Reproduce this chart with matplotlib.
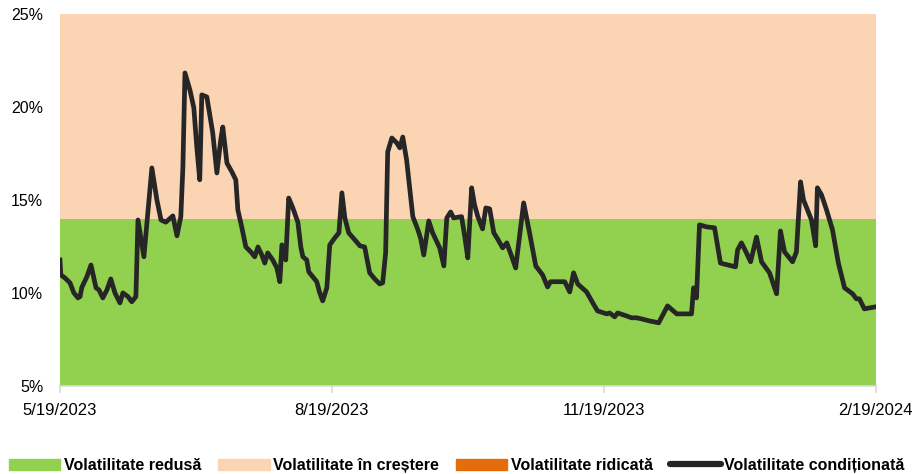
import numpy as np
import pandas as pd
import matplotlib
matplotlib.use("Agg")
import matplotlib.pyplot as plt
from matplotlib.patches import Patch
from matplotlib.lines import Line2D
from matplotlib.ticker import PercentFormatter

## Data (days after 5/19/2023, volatility in %) ##
start = pd.Timestamp("2023-05-19")
end = pd.Timestamp("2024-02-19")
days = [0, 0.3, 1.7, 3.4, 4.7, 6.1, 6.8, 7.4, 9.1, 10.5, 12.2, 13.2, 14.5, 15.9, 17.2,
        18.6, 20.3, 21.3, 23.0, 24.3, 25.7, 26.4, 28.4, 31.1, 32.8, 34.2, 35.8, 37.9,
        38.2, 39.6, 40.9, 41.6, 42.3, 44.0, 45.3, 46.3, 47.3, 48.0, 49.7, 51.7, 53.1,
        54.4, 55.1, 56.5, 58.2, 59.5, 60.2, 61.5, 62.9, 64.6, 65.9, 67.0, 68.3, 69.3,
        70.3, 72.0, 73.4, 74.4, 75.1, 76.4, 77.4, 78.8, 80.5, 81.5, 82.2, 83.5, 84.2,
        86.9, 87.9, 88.9, 90.3, 91.3, 93.0, 94.4, 95.4, 96.4, 97.7, 99.8, 101.5, 103.1,
        104.8, 106.5, 108.2, 109.2, 110.2, 110.9, 112.3, 114.0, 115.0, 116.0, 117.3,
        118.4, 119.4, 121.1, 122.1, 123.1, 124.8, 126.1, 128.5, 129.9, 130.9, 132.2,
        133.2, 135.9, 137.0, 138.0, 139.3, 140.3, 141.4, 143.0, 144.1, 145.4, 146.8,
        148.1, 149.8, 151.2, 152.9, 154.2, 156.9, 158.9, 161.0, 163.3, 165.0, 166.0,
        170.8, 172.5, 173.8, 175.2, 178.2, 180.3, 181.9, 185.0, 186.0, 187.7, 188.7,
        191.7, 193.4, 195.1, 196.8, 199.5, 202.6, 205.6, 208.7, 213.7, 214.4, 215.4,
        216.4, 218.8, 221.5, 223.5, 228.6, 229.3, 230.6, 232.3, 233.7, 235.7, 237.4,
        240.1, 242.5, 243.8, 245.2, 247.9, 249.2, 250.6, 251.6, 254.3, 255.7, 256.3,
        257.7, 259.4, 261.4, 263.4, 265.5, 268.2, 269.5, 270.5, 272.2, 276.0]
vol = [11.77, 10.97, 10.8, 10.54, 10.0, 9.73, 9.8, 10.3, 10.86, 11.5, 10.27, 10.16, 9.73,
       10.16, 10.75, 10.0, 9.46, 10.0, 9.8, 9.52, 9.8, 13.92, 11.94, 16.72, 15.0, 13.92,
       13.8, 14.1, 14.14, 13.07, 14.1, 16.77, 21.83, 20.9, 19.95, 17.85, 16.08, 20.65,
       20.54, 18.6, 16.45, 18.23, 18.92, 16.98, 16.5, 16.08, 14.46, 13.55, 12.47, 12.2,
       11.94, 12.47, 12.04, 11.6, 12.15, 11.77, 11.34, 10.6, 12.58, 11.77, 15.1, 14.57,
       13.8, 12.47, 11.94, 11.77, 11.13, 10.6, 10.0, 9.57, 10.27, 12.58, 12.96, 13.23,
       15.38, 14.03, 13.23, 12.85, 12.53, 12.47, 11.08, 10.75, 10.48, 10.54, 12.15,
       17.58, 18.33, 18.06, 17.8, 18.38, 17.15, 15.54, 14.1, 13.4, 12.9, 12.04, 13.87,
       13.23, 12.42, 11.45, 14.03, 14.35, 14.03, 14.1, 13.0, 11.88, 15.65, 14.73, 14.1,
       13.44, 14.57, 14.52, 13.23, 12.9, 12.42, 12.69, 11.94, 11.34, 14.84, 13.23, 11.45,
       10.97, 10.32, 10.6, 10.6, 10.05, 11.08, 10.48, 10.05, 9.46, 9.03, 8.87, 8.92,
       8.71, 8.92, 8.76, 8.66, 8.66, 8.6, 8.49, 8.39, 9.3, 8.87, 8.87, 10.27, 9.73,
       13.66, 13.55, 13.5, 11.6, 11.4, 12.31, 12.69, 12.15, 11.67, 13.0, 11.67, 11.08,
       9.95, 13.33, 12.2, 11.67, 12.2, 15.97, 15.0, 13.92, 12.53, 15.65, 15.27, 14.46,
       13.4, 11.6, 10.27, 9.95, 9.68, 9.68, 9.14, 9.25]

## Regime bands (%) ##
y_min, band_low, band_high = 5, 14, 25
tick_dates = ["2023-05-19", "2023-08-19", "2023-11-19", "2024-02-19"]
tick_labels = ["5/19/2023", "8/19/2023", "11/19/2023", "2/19/2024"]
labels = ["Volatilitate redusă", "Volatilitate în creștere",
          "Volatilitate ridicată", "Volatilitate condiționată"]
colors = ["#92D050", "#FBD4B4", "#E46C0A", "#262626"]

dates = start + pd.to_timedelta(days, unit="D")

plt.rcParams['font.family'] = ['Liberation Sans', 'DejaVu Sans']

fig = plt.figure(figsize=(9.14, 4.74), dpi=100)
ax = fig.add_axes([0.0656, 0.186, 0.8924, 0.7845])

span = [start, end]
ax.fill_between(span, y_min, band_low, color=colors[0], linewidth=0)
ax.fill_between(span, band_low, band_high, color=colors[1], linewidth=0)
ax.plot(dates, vol, color=colors[3], linewidth=3.4, solid_joinstyle="round")

ax.set_xlim(start, end)
ax.set_ylim(y_min, band_high)
ax.set_yticks([5, 10, 15, 20, 25])
ax.yaxis.set_major_formatter(PercentFormatter(xmax=100, decimals=0))
ax.set_xticks(pd.to_datetime(tick_dates))
ax.set_xticklabels(tick_labels)

for s in ["top", "right", "left"]:
    ax.spines[s].set_visible(False)
ax.spines["bottom"].set_color("#D9D9D9")
ax.spines["bottom"].set_linewidth(1.2)
ax.tick_params(axis="y", length=0, pad=12, labelsize=11.5, colors="black")
ax.tick_params(axis="x", length=5, width=1.2, color="#D9D9D9", pad=7,
               labelsize=12, labelcolor="black")

handles = [Patch(color=colors[0]), Patch(color=colors[1]), Patch(color=colors[2]),
           Line2D([0], [0], color=colors[3], linewidth=4.5, solid_capstyle="round")]
fig.legend(handles, labels, loc="lower center", bbox_to_anchor=(0.5, -0.028), ncol=4,
           frameon=False, handlelength=3.2, handleheight=0.7, columnspacing=1.1,
           handletextpad=0.2, prop={"size": 11.5, "weight": "bold"},
           labelcolor="black")

fig.savefig("out.png", dpi=100)
